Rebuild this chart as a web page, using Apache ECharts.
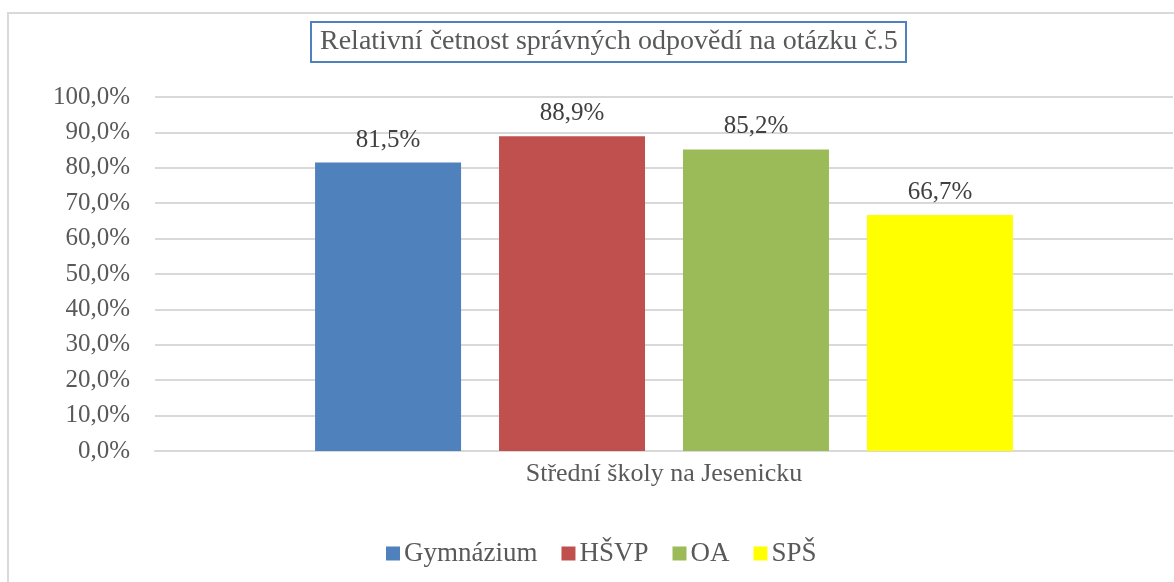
<!DOCTYPE html>
<html>
<head>
<meta charset="utf-8">
<script src="https://cdn.jsdelivr.net/npm/echarts@6/dist/echarts.min.js"></script>
<style>
  html, body { margin: 0; padding: 0; background: #fff; }
  #chart { width: 1174px; height: 582px; }
</style>
</head>
<body>
<div id="chart"></div>
<script>
// data
const categories = ['Střední školy na Jesenicku'];
const seriesNames = ['Gymnázium', 'HŠVP', 'OA', 'SPŠ'];
const seriesValues = [81.5, 88.9, 85.2, 66.7];
const seriesColors = ['#4f81bd', '#c0504d', '#9bbb59', '#ffff00'];

const font = '"Liberation Serif", "DejaVu Serif", serif';
const fmt = (v, d) => v.toFixed(d).replace('.', ',') + '%';

const chart = echarts.init(document.getElementById('chart'));

chart.setOption({
  animation: false,
  title: {
    text: 'Relativní četnost správných odpovědí na otázku č.5',
    left: 311,
    top: 22,
    padding: [6, 9, 6, 9],
    borderColor: '#4f81bd',
    borderWidth: 2,
    textStyle: { fontFamily: font, fontSize: 28, fontWeight: 'normal', color: '#595959' }
  },
  // outer chart-area frame (only left and top edges are visible)
  graphic: [{
    type: 'rect',
    shape: { x: 8, y: 13, width: 1300, height: 700 },
    style: { fill: 'none', stroke: '#d9d9d9', lineWidth: 2 },
    silent: true
  }],
  legend: {
    bottom: 10,
    left: 381,
    itemWidth: 14,
    itemHeight: 14,
    itemGap: 24,
    icon: 'rect',
    data: seriesNames,
    textStyle: { fontFamily: font, fontSize: 27, color: '#595959', padding: [0, 0, 0, -1] }
  },
  grid: { left: 155, right: 1, top: 97, bottom: 131 },
  xAxis: {
    type: 'category',
    data: categories,
    axisLine: { lineStyle: { color: '#d9d9d9', width: 2 } },
    axisTick: { show: false },
    axisLabel: { fontFamily: font, fontSize: 26, color: '#595959', margin: 10 }
  },
  yAxis: {
    type: 'value',
    min: 0,
    max: 100,
    interval: 10,
    axisLine: { show: false },
    axisTick: { show: false },
    splitLine: { lineStyle: { color: '#d9d9d9', width: 2 } },
    axisLabel: {
      fontFamily: font, fontSize: 25, color: '#595959', margin: 25,
      formatter: v => fmt(v, 1)
    }
  },
  series: seriesNames.map((name, i) => ({
    name: name,
    type: 'bar',
    data: [seriesValues[i]],
    barWidth: 146,
    barGap: '26%',
    itemStyle: { color: seriesColors[i] },
    label: {
      show: true,
      position: 'top',
      distance: 10,
      fontFamily: font,
      fontSize: 25,
      color: '#404040',
      formatter: p => fmt(p.value, 1)
    }
  }))
});
</script>
</body>
</html>
